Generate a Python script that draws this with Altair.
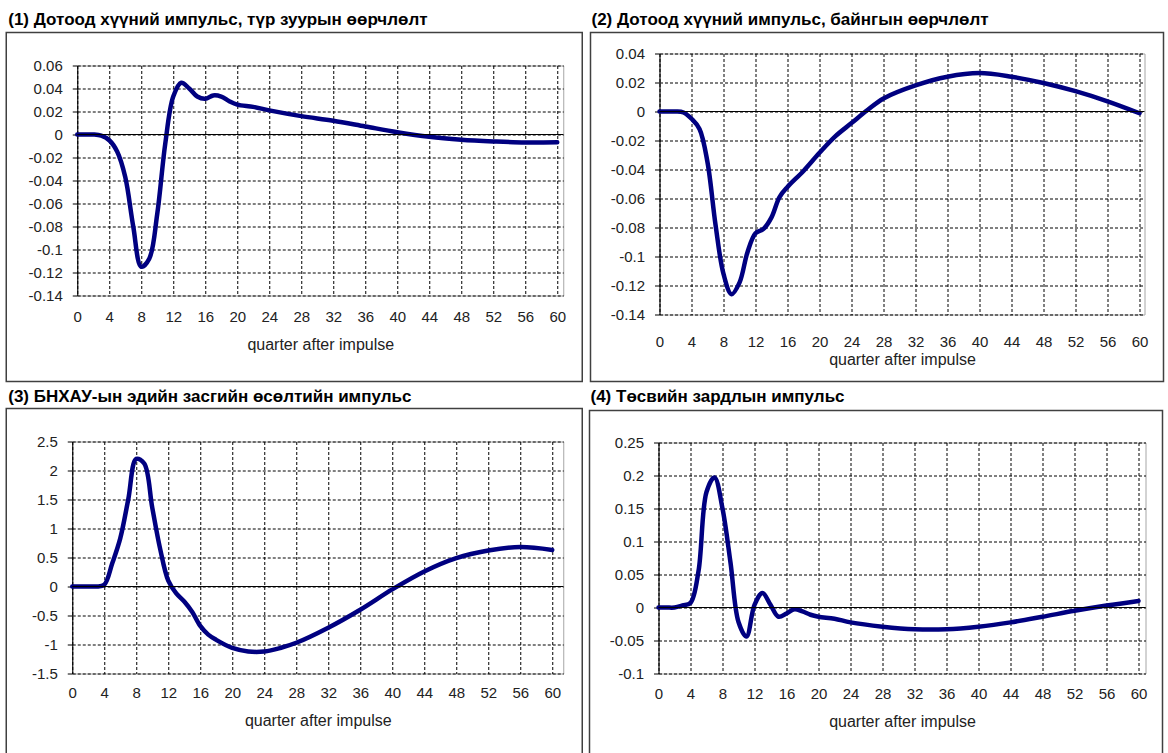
import altair as alt
import pandas as pd

FONT = "Liberation Sans"

titles = [
    "(1) Дотоод хүүний импульс, түр зуурын өөрчлөлт",
    "(2) Дотоод хүүний импульс, байнгын өөрчлөлт",
    "(3) БНХАУ-ын эдийн засгийн өсөлтийн импульс",
    "(4) Төсвийн зардлын импульс",
]
x_title = "quarter after impulse"
x_ticks = list(range(0, 61, 4))

y_ticks1 = [-0.14, -0.12, -0.1, -0.08, -0.06, -0.04, -0.02, 0, 0.02, 0.04, 0.06]
y_ticks2 = [-0.14, -0.12, -0.1, -0.08, -0.06, -0.04, -0.02, 0, 0.02, 0.04]
y_ticks3 = [-1.5, -1, -0.5, 0, 0.5, 1, 1.5, 2, 2.5]
y_ticks4 = [-0.1, -0.05, 0, 0.05, 0.1, 0.15, 0.2, 0.25]

q1 = [0, 1, 2, 3, 4, 5, 6, 7, 8, 9, 10, 11, 12, 13, 14, 15, 16, 17, 18, 19, 20,
      22, 24, 28, 32, 36, 40, 44, 48, 52, 56, 60]
v1 = [0, 0, 0, -0.001, -0.005, -0.015, -0.037, -0.08, -0.115, -0.108, -0.069,
      -0.008, 0.033, 0.045, 0.040, 0.033, 0.031, 0.034, 0.033, 0.029, 0.026,
      0.024, 0.021, 0.016, 0.012, 0.007, 0.002, -0.002, -0.0045, -0.006, -0.007, -0.0068]

q2 = [0, 1, 2, 3, 4, 5, 6, 7, 8, 9, 10, 11, 12, 13, 14, 15, 16, 18, 20, 22, 24,
      26, 28, 32, 36, 40, 44, 48, 52, 56, 60]
v2 = [0, 0, 0, -0.0007, -0.005, -0.012, -0.035, -0.078, -0.112, -0.126, -0.118,
      -0.097, -0.084, -0.081, -0.073, -0.059, -0.052, -0.041, -0.0285, -0.017,
      -0.008, 0.001, 0.009, 0.018, 0.024, 0.0265, 0.024, 0.0197, 0.014, 0.007, -0.0012]

q3 = [0, 1, 2, 3, 4, 5, 6, 7, 8, 9, 10, 11, 12, 13, 14, 15, 16, 17, 18, 20, 22,
      24, 26, 28, 32, 36, 40, 44, 48, 52, 56, 60]
v3 = [0, 0, 0, 0, 0.03, 0.4, 0.83, 1.5, 2.2, 2.12, 1.36, 0.64, 0.1, -0.12, -0.26,
      -0.44, -0.68, -0.83, -0.92, -1.06, -1.12, -1.12, -1.06, -0.97, -0.71, -0.40,
      -0.05, 0.26, 0.49, 0.62, 0.68, 0.63]

q4 = [0, 1, 2, 3, 4, 5, 6, 7, 8, 9, 10, 11, 12, 13, 14, 15, 16, 17, 18, 19, 20,
      22, 24, 28, 32, 36, 40, 44, 48, 52, 56, 60]
v4 = [0, 0, 0, 0.003, 0.007, 0.055, 0.175, 0.197, 0.15, 0.068, -0.022, -0.044, 0.004,
      0.022, 0.004, -0.014, -0.009, -0.0026, -0.006, -0.011, -0.014, -0.017,
      -0.0225, -0.029, -0.033, -0.033, -0.029, -0.0225, -0.014, -0.005, 0.003, 0.01]


def spacer():
    return alt.Chart(alt.Data(values=[{}])).mark_rect(opacity=0).encode(
        x=alt.value(0), x2=alt.value(1), y=alt.value(0), y2=alt.value(1)
    ).properties(width=1, height=1, view=alt.ViewBackground(stroke="transparent"))


def panel(title, qs, vs, yticks, w, h, xmax, frame, tpos, lab_pad, xtitle_pad):
    df = pd.DataFrame({"q": qs, "v": vs})
    xs = alt.X(
        "q:Q",
        scale=alt.Scale(domain=[0, xmax], nice=False, zero=False),
        axis=alt.Axis(
            values=x_ticks, tickCount=len(x_ticks), title=x_title, grid=True,
            gridDash=[3, 2], gridColor="black", gridOpacity=1, ticks=False,
            domain=False, labelPadding=lab_pad, titlePadding=xtitle_pad,
            labelFontSize=15, titleFontSize=16, titleFontWeight="normal",
            labelFlush=False, labelOverlap=False,
        ),
    )
    ys = alt.Y(
        "v:Q",
        scale=alt.Scale(domain=[yticks[0], yticks[-1]], nice=False, zero=False),
        axis=alt.Axis(
            values=yticks, tickCount=len(yticks), title=None, grid=True,
            gridDash=[3, 2], gridColor="black", gridOpacity=1, tickSize=5,
            tickColor="black", domainColor="black", labelPadding=10,
            labelExpr="'' + datum.value", labelFontSize=15, labelFlush=False,
            labelOverlap=False,
        ),
    )
    l, r, t, b = frame
    box = alt.Chart(alt.Data(values=[{}])).mark_rect(
        fillOpacity=0, stroke="#404040", strokeWidth=1.5
    ).encode(
        x=alt.value(l), x2=alt.value(w + r), y=alt.value(t), y2=alt.value(h + b)
    )
    line = alt.Chart(df).mark_line(
        color="#000080", strokeWidth=4.5, interpolate="catmull-rom",
        strokeCap="round", strokeJoin="round",
    ).encode(x=xs, y=ys)
    zero = alt.Chart(alt.Data(values=[{"q": 0, "v": 0}])).mark_rule(
        color="black", strokeWidth=1
    ).encode(y=ys)
    ttl = alt.Chart(alt.Data(values=[{}])).mark_text(
        text=title, align="left", baseline="middle", font=FONT, fontSize=17,
        fontWeight="bold", color="black",
    ).encode(x=alt.value(tpos[0]), y=alt.value(tpos[1]))
    return alt.layer(box, line, zero, ttl).properties(width=w, height=h)


p1 = panel(titles[0], q1, v1, y_ticks1, 486, 230, 60.75, (-71, 19, -33, 86), (-69, -46), 14, 12)
p2 = panel(titles[1], q2, v2, y_ticks2, 485, 261, 60.625, (-69, 19, -21, 67), (-68, -34), 20, 2)
p3 = panel(titles[2], q3, v3, y_ticks3, 491, 232, 61.375, (-66, 19, -33, 88), (-64, -45), 12, 12)
p4 = panel(titles[3], q4, v4, y_ticks4, 487, 231, 60.875, (-69, 17, -32, 88), (-68, -46), 13, 12)

row_a = alt.concat(spacer(), spacer(), p1, p2, columns=2).properties(
    align="none", bounds="full", spacing={"row": 0, "column": 4.25})
row_b = alt.concat(spacer(), spacer(), p3, p4, columns=2).properties(
    align="none", bounds="full", spacing={"row": 0, "column": 3.25})

chart = (
    alt.concat(spacer(), row_a, spacer(), row_b, columns=2)
    .properties(align="none", bounds="full", spacing={"row": 0, "column": 0},
                padding={"left": 1.25, "top": 6.5, "right": 0, "bottom": 0})
    .configure(background="white", font=FONT)
    .configure_view(stroke="#a6a6a6")
    .configure_axis(labelFont=FONT, titleFont=FONT, labelColor="#222222",
                    titleColor="#222222")
)

chart.save("out.html", embed_options={"renderer": "svg", "actions": False})
